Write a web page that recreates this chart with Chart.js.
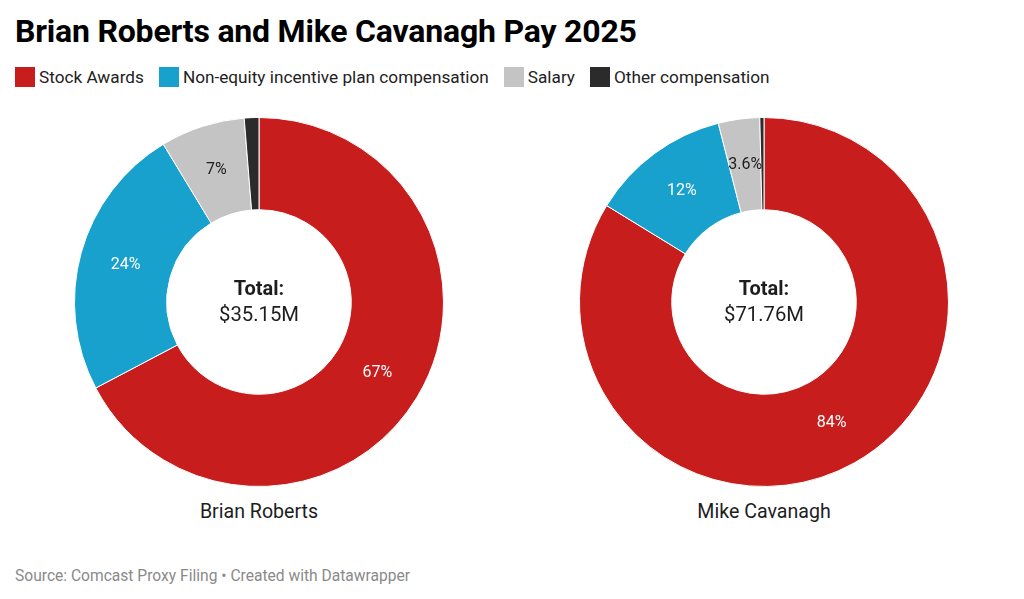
<!DOCTYPE html>
<html>
<head>
<meta charset="utf-8">
<script src="https://cdn.jsdelivr.net/npm/chart.js@4"></script>
<style>
	html, body { margin: 0; padding: 0; background: #fff; }
	body { width: 1024px; height: 599px; position: relative; overflow: hidden;
		font-family: Roboto, "Noto Sans", sans-serif; color: #1d1d1d; }
	#title { position: absolute; left: 15px; top: 12px; font-size: 32px; font-weight: 700;
		color: #000; letter-spacing: -0.2px; }
	#legend { position: absolute; left: 15px; top: 67px; display: flex; font-size: 17.2px; color: #222; }
	.item { display: flex; align-items: center; margin-right: 15px; }
	.swatch { width: 20px; height: 20px; margin-right: 4px; }
	.wrap { position: absolute; top: 117px; width: 370px; height: 370px; }
	.name { position: absolute; top: 500px; width: 370px; text-align: center; font-size: 19.6px; color: #1d1d1d; }
	#footer { position: absolute; left: 15px; top: 567px; font-size: 15.6px; color: #8a8a8a; }
</style>
</head>
<body>
<div id="title">Brian Roberts and Mike Cavanagh Pay 2025</div>
<div id="legend"></div>
<div class="wrap" style="left:74px"><canvas id="c1"></canvas></div>
<div class="wrap" style="left:579px"><canvas id="c2"></canvas></div>
<div class="name" style="left:74px">Brian Roberts</div>
<div class="name" style="left:579px">Mike Cavanagh</div>
<div id="footer">Source: Comcast Proxy Filing • Created with Datawrapper</div>
<script>
"use strict";

// Data (millions of dollars)

var CATEGORIES = ["Stock Awards", "Non-equity incentive plan compensation", "Salary", "Other compensation"];
var COLORS = ["#c71e1d", "#18a1cd", "#c4c4c4", "#2b2b2b"];
var LABEL_COLORS = ["#fff", "#fff", "#1d1d1d", "#fff"];

var ROBERTS = [23.65, 8.45, 2.6, 0.45];
var CAVANAGH = [60.1, 8.8, 2.6, 0.26];

var ROBERTS_TOTAL = "$35.15M";
var CAVANAGH_TOTAL = "$71.76M";

// Legend

var legend = document.getElementById("legend");
CATEGORIES.forEach(function (cat, i) {
	var item = document.createElement("div");
	item.className = "item";
	item.innerHTML = '<div class="swatch" style="background:' + COLORS[i] + '"></div><span>' + cat + '</span>';
	legend.appendChild(item);
});

// formats a share as shown on the slices, hides tiny ones
function formatShare(p) {
	if (p < 2) {
		return "";
	}
	if (p < 5) {
		return p.toFixed(1) + "%";
	}
	return Math.round(p) + "%";
}

// draws percentages on slices and total in the hole
var labelsPlugin = {
	id: "sliceLabels",
	afterDatasetsDraw: function (chart) {
		var ctx = chart.ctx,
			meta = chart.getDatasetMeta(0),
			data = chart.data.datasets[0].data,
			sum = data.reduce(function (a, b) { return a + b; }, 0);

		ctx.save();
		ctx.textAlign = "center";
		ctx.textBaseline = "middle";
		ctx.font = "16px Roboto";
		meta.data.forEach(function (arc, i) {
			var text = formatShare(data[i] / sum * 100);
			if (!text) {
				return;
			}
			var pos = arc.tooltipPosition();
			ctx.fillStyle = LABEL_COLORS[i];
			ctx.fillText(text, pos.x, pos.y);
		});

		var c = meta.data[0];
		ctx.fillStyle = "#1d1d1d";
		ctx.font = "bold 20px Roboto";
		ctx.fillText("Total:", c.x, c.y - 12);
		ctx.font = "20.3px Roboto";
		ctx.fillText(chart.options.plugins.sliceLabels.total, c.x, c.y + 14);
		ctx.restore();
	}
};

function makeChart(id, values, total) {
	return new Chart(document.getElementById(id), {
		type: "doughnut",
		data: {
			labels: CATEGORIES,
			datasets: [{
				data: values,
				backgroundColor: COLORS,
				borderColor: "#fff",
				borderWidth: 1,
				hoverBorderWidth: 1,
				hoverOffset: 0
			}]
		},
		options: {
			responsive: true,
			maintainAspectRatio: false,
			animation: false,
			cutout: "50%",
			layout: { padding: 0 },
			plugins: {
				legend: { display: false },
				tooltip: { enabled: false },
				sliceLabels: { total: total }
			}
		},
		plugins: [labelsPlugin]
	});
}

makeChart("c1", ROBERTS, ROBERTS_TOTAL);
makeChart("c2", CAVANAGH, CAVANAGH_TOTAL);
</script>
</body>
</html>
